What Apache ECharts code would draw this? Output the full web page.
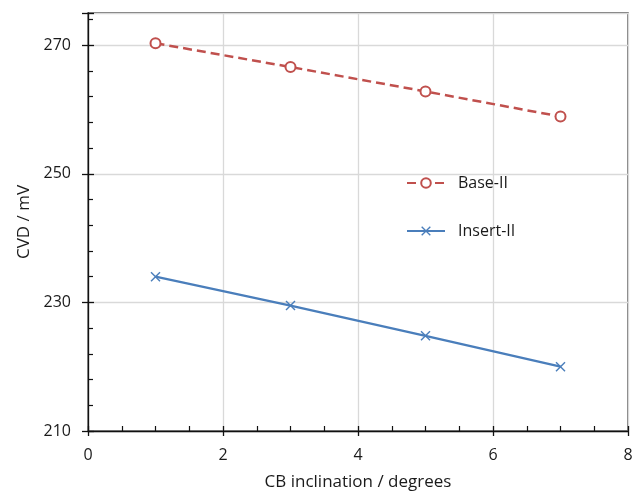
<!DOCTYPE html>
<html><head><meta charset="utf-8">
<script src="https://cdn.jsdelivr.net/npm/echarts@6/dist/echarts.min.js"></script>
<style>html,body{margin:0;padding:0;background:#fff}#c{width:643px;height:496px}</style>
</head><body><div id="c"></div>
<script>
var xValues = [1, 3, 5, 7];
var baseII = [270.3, 266.6, 262.8, 258.9];
var insertII = [234.0, 229.5, 224.8, 220.0];
var seriesNames = ['Base-II', 'Insert-II'];
var xTitle = 'CB inclination / degrees';
var yTitle = 'CVD / mV';

var FONT = '"Open Sans", "Liberation Sans", sans-serif';
var xMark = 'path://M0,1 L1,0 L5,4 L9,0 L10,1 L6,5 L10,9 L9,10 L5,6 L1,10 L0,9 L4,5 Z';
function pairs(xs, ys){ return xs.map(function(x,i){ return [x, ys[i]]; }); }

var chart = echarts.init(document.getElementById('c'));
chart.setOption({
  animation:false,
  grid: {left:88, right:15, top:13, bottom:65, show:true, borderColor:'#404040', borderWidth:1.3, backgroundColor:'transparent'},
  legend: {
    data: seriesNames, orient:'vertical', left:401, top:170,
    itemWidth:38, itemHeight:12, itemGap:32,
    textStyle:{fontFamily:FONT, fontSize:16, color:'#1a1a1a', padding:[0,0,0,8]}
  },
  xAxis: [{
    type:'value', min:0, max:8, interval:2,
    name: xTitle, nameLocation:'middle', nameGap:43,
    nameTextStyle:{fontFamily:FONT, fontSize:17, color:'#1a1a1a'},
    axisLine:{lineStyle:{color:'#111', width:1.3}},
    axisTick:{inside:true, length:5, lineStyle:{color:'#111', width:1.3}},
    minorTick:{show:true, splitNumber:4, length:5, lineStyle:{color:'#111', width:1.2}},
    axisLabel:{fontFamily:FONT, fontSize:16, color:'#1a1a1a', margin:16},
    splitLine:{show:true, lineStyle:{color:'#d9d9d9', width:1.3}}
  },{
    type:'value', min:0, max:8, interval:2, position:'bottom',
    axisLine:{show:false}, axisLabel:{show:false}, splitLine:{show:false},
    axisTick:{inside:false, length:5, lineStyle:{color:'#111', width:1.3}}
  }],
  yAxis: [{
    type:'value', min:210, max:275, interval:20,
    name: yTitle, nameLocation:'middle', nameGap:52,
    nameTextStyle:{fontFamily:FONT, fontSize:17, color:'#1a1a1a'},
    axisLine:{show:true, lineStyle:{color:'#111', width:1.3}},
    axisTick:{inside:true, length:6, lineStyle:{color:'#111', width:1.3}},
    minorTick:{show:true, splitNumber:5, length:5, lineStyle:{color:'#111', width:1.2}},
    axisLabel:{fontFamily:FONT, fontSize:16, color:'#1a1a1a', margin:17, showMaxLabel:false,
      formatter:function(v){ return v===275 ? '' : v; }},
    splitLine:{show:true, lineStyle:{color:'#d9d9d9', width:1.3}}
  },{
    type:'value', min:210, max:275, interval:20, position:'left',
    axisLine:{show:false}, axisLabel:{show:false}, splitLine:{show:false},
    axisTick:{show:true, inside:false, length:6, lineStyle:{color:'#111', width:1.3}}
  }],
  series: [{
    name: seriesNames[0], type:'line', data: pairs(xValues, baseII),
    symbol:'emptyCircle', symbolSize:10,
    lineStyle:{color:'#C0504D', width:2.5, type:[9,5]},
    itemStyle:{color:'#C0504D', borderColor:'#C0504D', borderWidth:1.5}
  },{
    name: seriesNames[1], type:'line', data: pairs(xValues, insertII),
    symbol: xMark, symbolSize:10,
    lineStyle:{color:'#4A7EBB', width:2.25},
    itemStyle:{color:'#4A7EBB'}
  }]
});
</script></body></html>
